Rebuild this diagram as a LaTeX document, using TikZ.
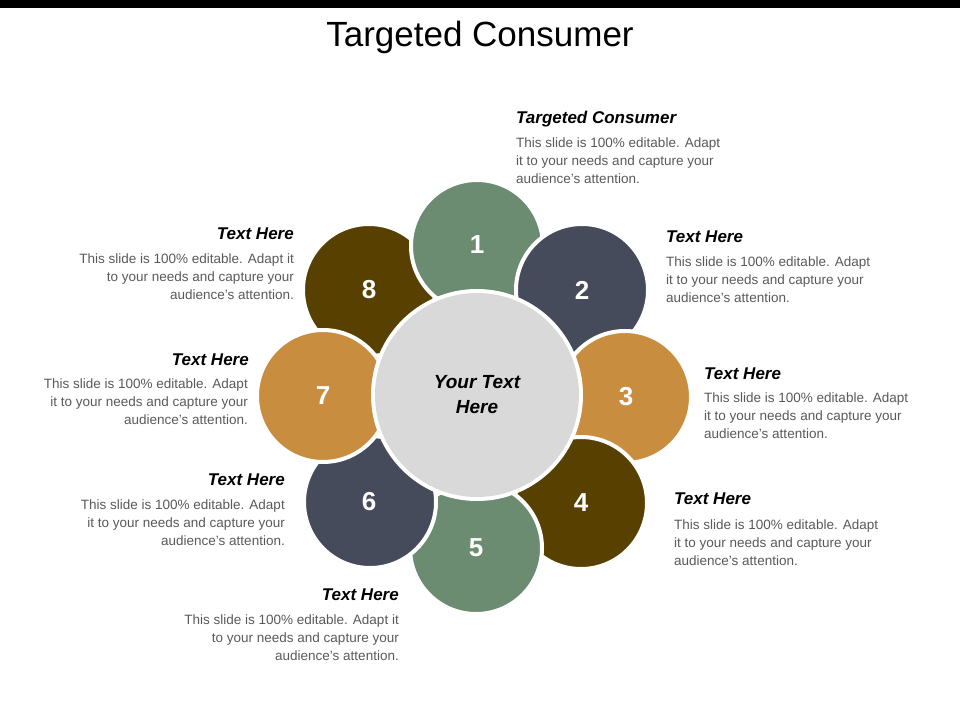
\documentclass[tikz,border=0pt]{standalone}
\usepackage{fontspec}
\setmainfont{Liberation Sans}
\definecolor{cgreen}{HTML}{6B8C70}
\definecolor{cslate}{HTML}{464B5B}
\definecolor{corange}{HTML}{C98D40}
\definecolor{cbrown}{HTML}{574000}
\definecolor{cbody}{HTML}{595959}
\tikzset{
 petal/.style={circle,minimum size=132pt,draw=white,line width=4pt,text=white,font=\bfseries\fontsize{26}{28}\selectfont,inner sep=0pt},
 head/.style={font=\bfseries\itshape\fontsize{17}{20}\selectfont,inner sep=0pt},
 bodyr/.style={font=\fontsize{13.5}{18}\selectfont,text=cbody,align=right,inner sep=0pt,anchor=north east},
 bodyl/.style={font=\fontsize{13.5}{18}\selectfont,text=cbody,align=left,inner sep=0pt,anchor=north west}
}
\begin{document}
\begin{tikzpicture}[x=1pt,y=-1pt]
\useasboundingbox (0,0) rectangle (960,720);
\fill[black] (0,0) rectangle (960,8);
\node[font=\fontsize{35}{40}\selectfont] (title) at (480,37) {Targeted Consumer};
\node[petal,fill=cbrown] (p8) at (369,290) {};
\node[petal,fill=cgreen] (p1) at (477,246) {};
\node[petal,fill=cslate] (p2) at (582,290) {};
\node[petal,fill=corange] (p3) at (625,397) {};
\node[petal,fill=cbrown] (p4) at (581,503) {};
\node[petal,fill=cgreen] (p5) at (476,548) {};
\node[petal,fill=cslate] (p6) at (370,502) {};
\node[petal,fill=corange] (p7) at (323,396) {};
\node[text=white,font=\bfseries\fontsize{26}{28}\selectfont] (n1) at (477,245) {1};
\node[text=white,font=\bfseries\fontsize{26}{28}\selectfont] (n2) at (582,290) {2};
\node[text=white,font=\bfseries\fontsize{26}{28}\selectfont] (n3) at (626,397) {3};
\node[text=white,font=\bfseries\fontsize{26}{28}\selectfont] (n4) at (581,503) {4};
\node[text=white,font=\bfseries\fontsize{26}{28}\selectfont] (n5) at (476,548) {5};
\node[text=white,font=\bfseries\fontsize{26}{28}\selectfont] (n6) at (369,502) {6};
\node[text=white,font=\bfseries\fontsize{26}{28}\selectfont] (n7) at (323,396) {7};
\node[text=white,font=\bfseries\fontsize{26}{28}\selectfont] (n8) at (369,290) {8};
\node[circle,minimum size=212pt,fill=white,inner sep=0pt] (ring) at (477,395) {};
\node[circle,minimum size=204pt,fill=black!15,inner sep=0pt,align=center,font=\bfseries\itshape\fontsize{19}{25}\selectfont] (c) at (477,395) {Your Text\\Here};
% right side
\node[head,anchor=west] (h1) at (516,119) {Targeted Consumer};
\node[bodyl] (b1) at (516,138) {This slide is 100\% editable. Adapt\\it to your needs and capture your\\audience's attention.};
\node[head,anchor=west] (h2) at (666,237) {Text Here};
\node[bodyl] (b2) at (666,257) {This slide is 100\% editable. Adapt\\it to your needs and capture your\\audience's attention.};
\node[head,anchor=west] (h3) at (704,374) {Text Here};
\node[bodyl] (b3) at (704,393) {This slide is 100\% editable. Adapt\\it to your needs and capture your\\audience's attention.};
\node[head,anchor=west] (h4) at (674,499) {Text Here};
\node[bodyl] (b4) at (674,520) {This slide is 100\% editable. Adapt\\it to your needs and capture your\\audience's attention.};
% left side
\node[head,anchor=east] (h8) at (294,234) {Text Here};
\node[bodyr] (b8) at (294,254) {This slide is 100\% editable. Adapt it\\to your needs and capture your\\audience's attention.};
\node[head,anchor=east] (h7) at (249,360) {Text Here};
\node[bodyr] (b7) at (248,379) {This slide is 100\% editable. Adapt\\it to your needs and capture your\\audience's attention.};
\node[head,anchor=east] (h6) at (285,480) {Text Here};
\node[bodyr] (b6) at (285,500) {This slide is 100\% editable. Adapt\\it to your needs and capture your\\audience's attention.};
\node[head,anchor=east] (h5) at (399,595) {Text Here};
\node[bodyr] (b5) at (399,615) {This slide is 100\% editable. Adapt it\\to your needs and capture your\\audience's attention.};
\end{tikzpicture}
\end{document}
